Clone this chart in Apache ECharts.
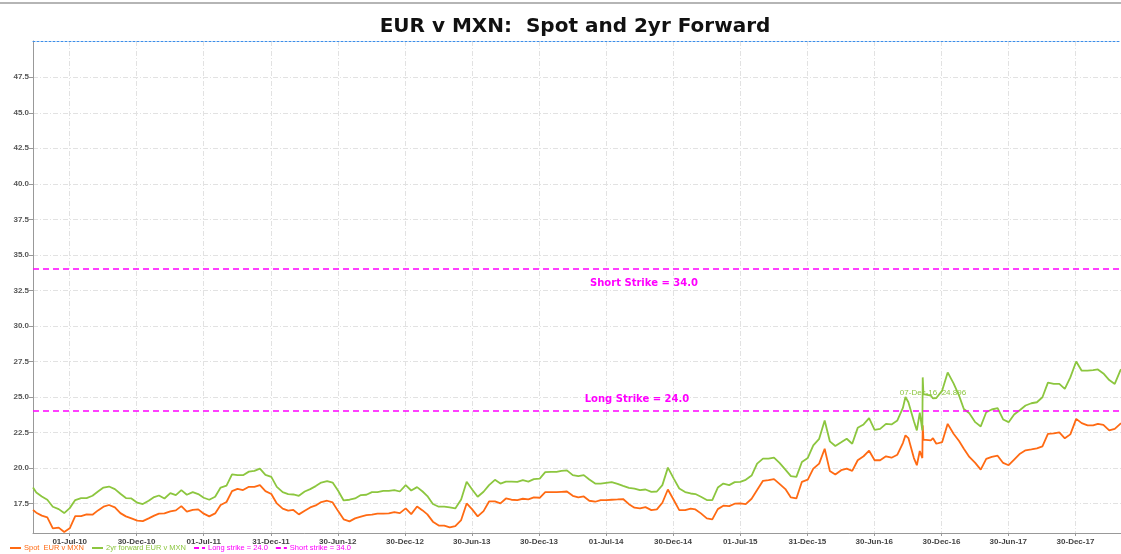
<!DOCTYPE html>
<html>
<head>
<meta charset="utf-8">
<title>EUR v MXN: Spot and 2yr Forward</title>
<script src="https://cdn.jsdelivr.net/npm/echarts@6/dist/echarts.min.js"></script>
<style>
  html, body { margin: 0; padding: 0; background: #fff; }
  #chart { width: 1121px; height: 554px; }
</style>
</head>
<body>
<div id="chart"></div>
<script>
// observation dates (roughly twice a month, plus a few extra days around spikes)
const dates = [
  '2010-03-23', '2010-04-01', '2010-04-16', '2010-05-01', '2010-05-16', '2010-06-01', '2010-06-16', '2010-07-01', '2010-07-16', '2010-08-01', '2010-08-16', '2010-09-01', '2010-09-16', '2010-10-01', '2010-10-16', '2010-11-01', '2010-11-16', '2010-12-01', '2010-12-16',
  '2011-01-01', '2011-01-16', '2011-02-01', '2011-02-16', '2011-03-01', '2011-03-16', '2011-04-01', '2011-04-16', '2011-05-01', '2011-05-16', '2011-06-01', '2011-06-16', '2011-07-01', '2011-07-16', '2011-08-01', '2011-08-16', '2011-09-01', '2011-09-16', '2011-10-01', '2011-10-16', '2011-11-01', '2011-11-16', '2011-12-01', '2011-12-16',
  '2012-01-01', '2012-01-16', '2012-02-01', '2012-02-16', '2012-03-01', '2012-03-16', '2012-04-01', '2012-04-16', '2012-05-01', '2012-05-16', '2012-06-01', '2012-06-16', '2012-07-01', '2012-07-16', '2012-08-01', '2012-08-16', '2012-09-01', '2012-09-16', '2012-10-01', '2012-10-16', '2012-11-01', '2012-11-16', '2012-12-01', '2012-12-16',
  '2013-01-01', '2013-01-16', '2013-02-01', '2013-02-16', '2013-03-01', '2013-03-16', '2013-04-01', '2013-04-16', '2013-05-01', '2013-05-16', '2013-06-01', '2013-06-16', '2013-07-01', '2013-07-16', '2013-08-01', '2013-08-16', '2013-09-01', '2013-09-16', '2013-10-01', '2013-10-16', '2013-11-01', '2013-11-16', '2013-12-01', '2013-12-16',
  '2014-01-01', '2014-01-16', '2014-02-01', '2014-02-16', '2014-03-01', '2014-03-16', '2014-04-01', '2014-04-16', '2014-05-01', '2014-05-16', '2014-06-01', '2014-06-16', '2014-07-01', '2014-07-16', '2014-08-01', '2014-08-16', '2014-09-01', '2014-09-16', '2014-10-01', '2014-10-16', '2014-11-01', '2014-11-16', '2014-12-01', '2014-12-16',
  '2015-01-01', '2015-01-16', '2015-02-01', '2015-02-16', '2015-03-01', '2015-03-16', '2015-04-01', '2015-04-16', '2015-05-01', '2015-05-16', '2015-06-01', '2015-06-16', '2015-07-01', '2015-07-16', '2015-08-01', '2015-08-16', '2015-09-01', '2015-09-16', '2015-10-01', '2015-10-16', '2015-11-01', '2015-11-16', '2015-12-01', '2015-12-16',
  '2016-01-01', '2016-01-16', '2016-02-01', '2016-02-16', '2016-03-01', '2016-03-16', '2016-04-01', '2016-04-16', '2016-05-01', '2016-05-16', '2016-06-01', '2016-06-16', '2016-07-01', '2016-07-16', '2016-08-01', '2016-08-16', '2016-09-01', '2016-09-16', '2016-09-23', '2016-10-01', '2016-10-16', '2016-10-24', '2016-11-01', '2016-11-08', '2016-11-09', '2016-11-11', '2016-11-16', '2016-12-01', '2016-12-07', '2016-12-16',
  '2017-01-01', '2017-01-16', '2017-02-01', '2017-02-16', '2017-03-01', '2017-03-16', '2017-04-01', '2017-04-16', '2017-05-01', '2017-05-16', '2017-06-01', '2017-06-16', '2017-07-01', '2017-07-16', '2017-08-01', '2017-08-16', '2017-09-01', '2017-09-16', '2017-10-01', '2017-10-16', '2017-11-01', '2017-11-16', '2017-12-01', '2017-12-16',
  '2018-01-01', '2018-01-16', '2018-02-01', '2018-02-16', '2018-03-01', '2018-03-16', '2018-04-01', '2018-04-16', '2018-05-01', '2018-05-03'
];

// Spot EUR v MXN
const spot = [
  17.05, 16.86, 16.65, 16.53, 15.76, 15.81, 15.50, 15.76, 16.62, 16.62, 16.74, 16.72, 17.02, 17.28, 17.40, 17.23, 16.83, 16.60, 16.46,
  16.30, 16.27, 16.46, 16.65, 16.79, 16.81, 16.95, 17.02, 17.32, 16.93, 17.05, 17.09, 16.79, 16.60, 16.81, 17.40, 17.61, 18.38, 18.54, 18.45, 18.68, 18.68, 18.80, 18.38,
  18.17, 17.51, 17.14, 17.00, 17.05, 16.74, 17.00, 17.23, 17.37, 17.61, 17.70, 17.58, 16.97, 16.39, 16.25, 16.46, 16.58, 16.69, 16.72, 16.79, 16.79, 16.81, 16.90, 16.83,
  17.16, 16.76, 17.30, 17.02, 16.74, 16.23, 15.95, 15.95, 15.83, 15.92, 16.34, 17.51, 17.09, 16.60, 16.97, 17.65, 17.65, 17.51, 17.86, 17.77, 17.75, 17.84, 17.79, 17.93,
  17.91, 18.31, 18.31, 18.31, 18.33, 18.35, 18.05, 17.93, 18.00, 17.70, 17.63, 17.75, 17.75, 17.77, 17.79, 17.82, 17.46, 17.21, 17.16, 17.25, 17.04, 17.09, 17.56, 18.49,
  17.75, 17.04, 17.04, 17.14, 17.09, 16.81, 16.46, 16.39, 17.11, 17.35, 17.32, 17.49, 17.51, 17.46, 17.84, 18.45, 19.10, 19.15, 19.22, 18.89, 18.52, 17.93, 17.86, 19.03,
  19.19, 19.96, 20.31, 21.36, 19.80, 19.54, 19.85, 19.96, 19.80, 20.55, 20.83, 21.22, 20.55, 20.55, 20.83, 20.73, 20.94, 21.76, 22.30, 22.11, 20.70, 20.20, 21.20, 20.70, 23.00, 22.00, 21.95, 21.95, 22.10, 21.71,
  21.83, 23.11, 22.41, 21.90, 21.36, 20.78, 20.36, 19.89, 20.64, 20.78, 20.87, 20.36, 20.20, 20.59, 21.01, 21.25, 21.32, 21.39, 21.53, 22.41, 22.44, 22.51, 22.09, 22.37,
  23.46, 23.16, 23.00, 23.00, 23.11, 23.04, 22.65, 22.76, 23.11, 23.15
];

// 2yr forward EUR v MXN
const fwd2y = [
  18.63, 18.28, 18.00, 17.77, 17.28, 17.11, 16.83, 17.18, 17.75, 17.89, 17.89, 18.05, 18.35, 18.63, 18.70, 18.52, 18.19, 17.89, 17.86,
  17.56, 17.47, 17.70, 17.96, 18.07, 17.86, 18.24, 18.10, 18.45, 18.12, 18.31, 18.17, 17.91, 17.77, 17.98, 18.63, 18.77, 19.56, 19.50, 19.50, 19.75, 19.80, 19.96, 19.52,
  19.38, 18.68, 18.31, 18.17, 18.14, 18.05, 18.35, 18.52, 18.73, 18.98, 19.08, 18.98, 18.40, 17.72, 17.77, 17.86, 18.10, 18.12, 18.31, 18.31, 18.40, 18.40, 18.45, 18.35,
  18.80, 18.42, 18.66, 18.35, 18.03, 17.47, 17.28, 17.28, 17.23, 17.16, 17.79, 19.03, 18.49, 17.98, 18.33, 18.80, 19.17, 18.91, 19.05, 19.05, 19.03, 19.15, 19.05, 19.22,
  19.26, 19.71, 19.73, 19.73, 19.80, 19.84, 19.50, 19.43, 19.50, 19.19, 18.91, 18.91, 18.96, 19.01, 18.89, 18.75, 18.61, 18.56, 18.45, 18.49, 18.33, 18.35, 18.80, 20.03,
  19.26, 18.56, 18.31, 18.21, 18.17, 17.98, 17.75, 17.75, 18.63, 18.91, 18.80, 19.01, 19.03, 19.17, 19.47, 20.31, 20.66, 20.66, 20.73, 20.36, 19.89, 19.43, 19.38, 20.43,
  20.71, 21.60, 22.06, 23.35, 21.88, 21.55, 21.81, 22.06, 21.71, 22.83, 23.07, 23.51, 22.69, 22.76, 23.11, 23.07, 23.35, 24.23, 25.00, 24.63, 23.30, 22.65, 23.90, 22.65, 26.38, 25.20, 25.10, 25.10, 24.896, 24.93,
  25.45, 26.73, 25.96, 25.10, 24.16, 23.86, 23.23, 22.93, 23.93, 24.12, 24.21, 23.42, 23.23, 23.77, 24.09, 24.40, 24.56, 24.63, 24.98, 26.01, 25.92, 25.92, 25.57, 26.38,
  27.50, 26.85, 26.85, 26.89, 26.94, 26.66, 26.19, 25.92, 26.85, 26.95
];

// axis ticks as printed on the chart
const xTickDates = [
  '2010-07-01', '2010-12-30', '2011-07-01', '2011-12-31', '2012-06-30', '2012-12-30', '2013-06-30', '2013-12-30',
  '2014-07-01', '2014-12-30', '2015-07-01', '2015-12-31', '2016-06-30', '2016-12-30', '2017-06-30', '2017-12-30'
];
const yTicks = [17.5, 20.0, 22.5, 25.0, 27.5, 30.0, 32.5, 35.0, 37.5, 40.0, 42.5, 45.0, 47.5];

// strikes and the highlighted point
const longStrike = 24.0;
const shortStrike = 34.0;
const pointDate = '2016-12-07';
const pointValue = 24.896;

const ORANGE = '#ff6a13';
const GREEN = '#8cc63f';
const MAGENTA = '#ff00ff';
const MONTHS = ['Jan', 'Feb', 'Mar', 'Apr', 'May', 'Jun', 'Jul', 'Aug', 'Sep', 'Oct', 'Nov', 'Dec'];

// dates are kept as plain timestamps on a value axis so the printed tick days can be used as-is
const ts = (s) => {
  const p = s.split('-').map(Number);
  return Date.UTC(p[0], p[1] - 1, p[2]);
};
const fmtDate = (v) => {
  const d = new Date(v);
  const dd = String(d.getUTCDate()).padStart(2, '0');
  return dd + '-' + MONTHS[d.getUTCMonth()] + '-' + String(d.getUTCFullYear()).slice(2);
};
const xMin = ts('2010-03-23');
const xMax = ts('2018-05-03');

const gridLine = { show: true, lineStyle: { color: '#e2e2e2', width: 1, type: [5, 2, 1, 2] } };

const chart = echarts.init(document.getElementById('chart'));
chart.setOption({
  animation: false,
  backgroundColor: '#fff',
  textStyle: { fontFamily: 'Liberation Sans, Arial, sans-serif' },
  title: {
    text: 'EUR v MXN:  Spot and 2yr Forward',
    left: 570,
    top: 12,
    textAlign: 'center',
    textStyle: { fontSize: 20, fontWeight: 'bold', color: '#111', fontFamily: 'DejaVu Sans' }
  },
  graphic: [
    { type: 'rect', left: 0, top: 2, shape: { width: 1121, height: 2 }, style: { fill: '#b5b5b5' } }
  ],
  legend: {
    left: 8,
    bottom: 1,
    padding: 1,
    itemWidth: 11,
    itemHeight: 3,
    itemGap: 7,
    itemStyle: { opacity: 0 },
    textStyle: { fontSize: 7.5, padding: [0, 0, 0, -2] },
    data: [
      { name: 'Spot  EUR v MXN', textStyle: { color: ORANGE } },
      { name: '2yr forward EUR v MXN', textStyle: { color: GREEN } },
      { name: 'Long strike = 24.0', textStyle: { color: MAGENTA } },
      { name: 'Short strike = 34.0', textStyle: { color: MAGENTA } }
    ]
  },
  grid: { left: 33, right: 0, top: 41, bottom: 21, outerBoundsMode: 'none' },
  xAxis: [
    {
      type: 'value',
      min: xMin,
      max: xMax,
      axisLine: { lineStyle: { color: '#999', width: 1 } },
      axisTick: { show: true, length: 3, lineStyle: { color: '#999' }, customValues: xTickDates.map(ts) },
      axisLabel: {
        customValues: xTickDates.map(ts),
        formatter: (v) => fmtDate(v),
        fontSize: 8,
        fontWeight: 'bold',
        color: '#444',
        margin: 5
      },
      splitLine: gridLine
    },
    {
      type: 'value',
      position: 'top',
      min: xMin,
      max: xMax,
      axisLine: { show: true, lineStyle: { color: '#3d8ee8', width: 1, type: [2, 2] } },
      axisTick: { show: false },
      axisLabel: { show: false },
      splitLine: { show: false }
    }
  ],
  yAxis: {
    type: 'value',
    min: 15.43,
    max: 50.05,
    axisLine: { show: true, lineStyle: { color: '#999', width: 1 } },
    axisTick: { show: true, length: 4, lineStyle: { color: '#999' }, customValues: yTicks },
    axisLabel: {
      customValues: yTicks,
      formatter: (v) => v.toFixed(1),
      fontSize: 8,
      fontWeight: 'bold',
      color: '#555',
      margin: 4
    },
    splitLine: gridLine
  },
  series: [
    {
      name: 'Spot  EUR v MXN',
      type: 'line',
      showSymbol: false,
      symbol: 'none',
      color: ORANGE,
      lineStyle: { width: 1.8, color: ORANGE },
      data: dates.map((d, i) => [ts(d), spot[i]]),
      z: 3
    },
    {
      name: '2yr forward EUR v MXN',
      type: 'line',
      showSymbol: false,
      symbol: 'none',
      color: GREEN,
      lineStyle: { width: 1.8, color: GREEN },
      data: dates.map((d, i) => [ts(d), fwd2y[i]]),
      markPoint: {
        symbol: 'circle',
        symbolSize: 1,
        itemStyle: { color: 'rgba(0,0,0,0)' },
        label: {
          show: true,
          position: 'top',
          distance: 1,
          formatter: '07-Dec-16, 24.896',
          color: GREEN,
          fontSize: 8
        },
        data: [{ coord: [ts(pointDate), pointValue] }]
      },
      z: 3
    },
    {
      name: 'Long strike = 24.0',
      type: 'line',
      symbol: 'none',
      color: MAGENTA,
      lineStyle: { width: 1.5, color: MAGENTA, type: [5, 3] },
      data: [],
      markLine: {
        silent: true,
        symbol: 'none',
        lineStyle: { color: MAGENTA, width: 1.5, type: [6, 4] },
        label: {
          position: 'insideMiddleTop',
          distance: 7,
          formatter: 'Long Strike = 24.0',
          color: MAGENTA,
          fontFamily: 'DejaVu Sans',
          fontSize: 10,
          fontWeight: 'bold',
          padding: [0, 0, 0, 120]
        },
        data: [{ yAxis: longStrike }]
      },
      z: 2
    },
    {
      name: 'Short strike = 34.0',
      type: 'line',
      symbol: 'none',
      color: MAGENTA,
      lineStyle: { width: 1.5, color: MAGENTA, type: [5, 3] },
      data: [],
      markLine: {
        silent: true,
        symbol: 'none',
        lineStyle: { color: MAGENTA, width: 1.5, type: [6, 4] },
        label: {
          position: 'insideMiddleBottom',
          distance: 9,
          formatter: 'Short Strike = 34.0',
          color: MAGENTA,
          fontFamily: 'DejaVu Sans',
          fontSize: 10,
          fontWeight: 'bold',
          padding: [0, 0, 0, 134]
        },
        data: [{ yAxis: shortStrike }]
      },
      z: 2
    }
  ]
});
</script>
</body>
</html>
